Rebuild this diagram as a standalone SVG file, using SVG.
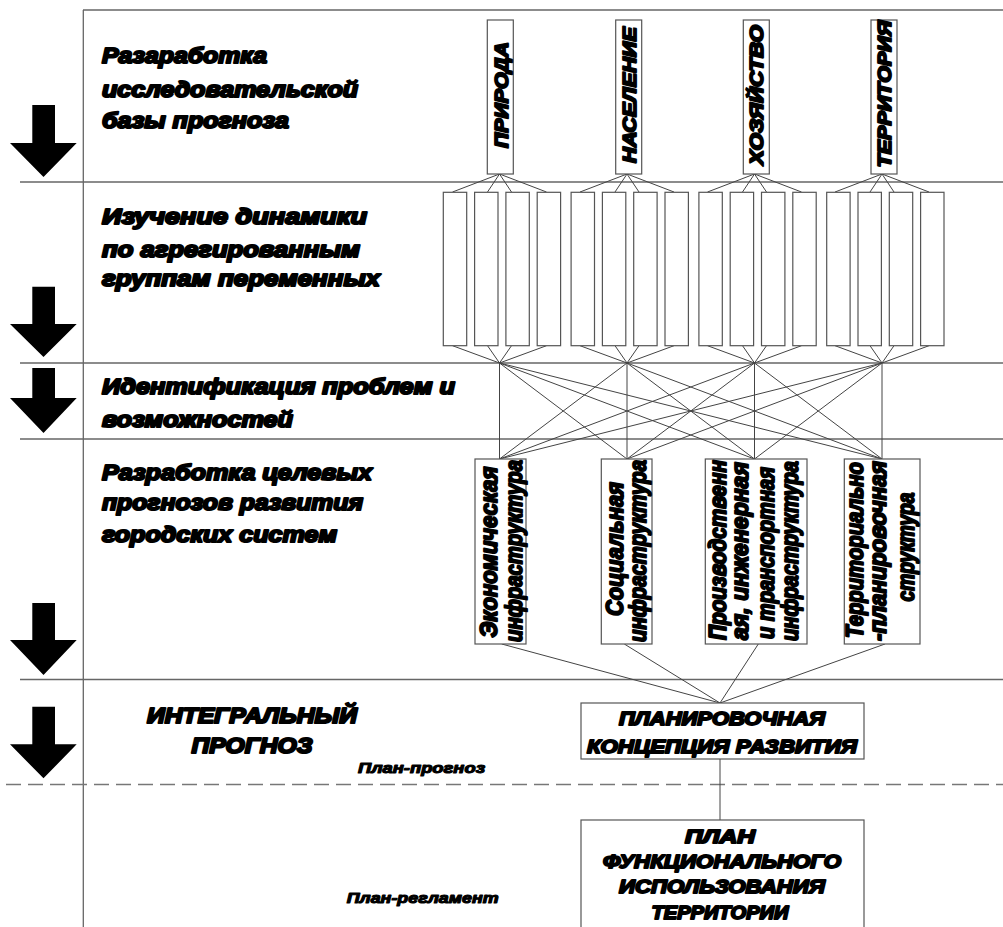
<svg xmlns="http://www.w3.org/2000/svg" width="1003" height="927" viewBox="0 0 1003 927">
<style>
.bg{fill:#fff}
.band{stroke:#666;stroke-width:1.3;fill:none}
.dash{stroke:#777;stroke-width:1.5;stroke-dasharray:15 7;fill:none}
.box{fill:#fff;stroke:#555;stroke-width:1.2}
.con{stroke:#444;stroke-width:1;fill:none}
.arrow{fill:#000}
.t{font-family:"Liberation Sans",Arial,sans-serif;font-weight:bold;font-style:italic;fill:#000;stroke:#000;stroke-linejoin:round}
.h{font-size:22px;stroke-width:2.1}
.r{font-size:23px;stroke-width:1.9}
.v{font-size:19px;stroke-width:1.9}
.m{font-size:19px;stroke-width:1.9}
.s{font-size:14px;stroke-width:1.1}
</style>
<defs>
<path id="arr" d="M32.3 0 H55 V38 H76.7 L43.5 72 L10 38 H32.3 Z"/>
</defs>
<rect class="bg" x="0" y="0" width="1003" height="927"/>

<g id="frame">
<line class="band" x1="83" y1="10" x2="1003" y2="10"/>
<line class="band" x1="83.3" y1="10" x2="83.3" y2="927"/>
<line class="band" x1="20" y1="182" x2="1003" y2="182"/>
<line class="band" x1="20" y1="363" x2="1003" y2="363"/>
<line class="band" x1="20" y1="439" x2="1003" y2="439"/>
<line class="band" x1="20" y1="679.5" x2="1003" y2="679.5"/>
<line class="dash" x1="6" y1="784.5" x2="1003" y2="784.5"/>
</g>

<g id="arrows">
<use href="#arr" class="arrow" transform="translate(0,105)"/>
<path class="arrow" d="M32.3 286.7 H55 V324 H76.7 L43.5 357 L10 324 H32.3 Z"/>
<path class="arrow" d="M32.3 368 H55 V398 H76.7 L43.5 433 L10 398 H32.3 Z"/>
<path class="arrow" d="M32.3 603 H55 V640 H76.7 L43.5 675 L10 640 H32.3 Z"/>
<path class="arrow" d="M32.3 706.7 H55 V744.3 H76.7 L43.5 778.3 L10 744.3 H32.3 Z"/>
</g>

<g id="stage-labels">
<text class="t h" x="102" y="63" textLength="165" lengthAdjust="spacingAndGlyphs">Разаработка</text>
<text class="t h" x="102" y="97" textLength="256" lengthAdjust="spacingAndGlyphs">исследовательской</text>
<text class="t h" x="102" y="128" textLength="187" lengthAdjust="spacingAndGlyphs">базы прогноза</text>
<text class="t h" x="102" y="224" textLength="265" lengthAdjust="spacingAndGlyphs">Изучение динамики</text>
<text class="t h" x="102" y="257" textLength="258" lengthAdjust="spacingAndGlyphs">по агрегированным</text>
<text class="t h" x="102" y="286" textLength="278" lengthAdjust="spacingAndGlyphs">группам переменных</text>
<text class="t h" x="102" y="394" textLength="353" lengthAdjust="spacingAndGlyphs">Идентификация проблем и</text>
<text class="t h" x="102" y="427" textLength="191" lengthAdjust="spacingAndGlyphs">возможностей</text>
<text class="t h" x="102" y="480" textLength="270" lengthAdjust="spacingAndGlyphs">Разработка целевых</text>
<text class="t h" x="102" y="510" textLength="261" lengthAdjust="spacingAndGlyphs">прогнозов развития</text>
<text class="t h" x="102" y="542" textLength="235" lengthAdjust="spacingAndGlyphs">городских систем</text>
<text class="t h" x="252" y="723" text-anchor="middle" textLength="210" lengthAdjust="spacingAndGlyphs">ИНТЕГРАЛЬНЫЙ</text>
<text class="t h" x="252" y="753" text-anchor="middle" textLength="121" lengthAdjust="spacingAndGlyphs">ПРОГНОЗ</text>
<text class="t s" x="358" y="772.7" textLength="127" lengthAdjust="spacingAndGlyphs">План-прогноз</text>
<text class="t s" x="346.7" y="903.3" textLength="152" lengthAdjust="spacingAndGlyphs">План-регламент</text>
</g>

<g id="connectors">
<path class="con" d="M499.5 174 L452.5 192 M499.5 174 L487.5 192 M499.5 174 L511.5 192 M499.5 174 L546.5 192
M627 174 L580 192 M627 174 L615 192 M627 174 L639 192 M627 174 L674 192
M754.5 174 L707.5 192 M754.5 174 L742.5 192 M754.5 174 L766.5 192 M754.5 174 L801.5 192
M882 174 L835 192 M882 174 L870 192 M882 174 L894 192 M882 174 L929 192"/>
<path class="con" d="M452.5 345.7 L499.5 363 M487.5 345.7 L499.5 363 M511.5 345.7 L499.5 363 M546.5 345.7 L499.5 363
M580 345.7 L627 363 M615 345.7 L627 363 M639 345.7 L627 363 M674 345.7 L627 363
M707.5 345.7 L754.5 363 M742.5 345.7 L754.5 363 M766.5 345.7 L754.5 363 M801.5 345.7 L754.5 363
M835 345.7 L882 363 M870 345.7 L882 363 M894 345.7 L882 363 M929 345.7 L882 363"/>
<path class="con" d="M499.5 363 L499.5 459 M499.5 363 L627 459 M499.5 363 L754.5 459 M499.5 363 L882 459
M627 363 L499.5 459 M627 363 L627 459 M627 363 L754.5 459 M627 363 L882 459
M754.5 363 L499.5 459 M754.5 363 L627 459 M754.5 363 L754.5 459 M754.5 363 L882 459
M882 363 L499.5 459 M882 363 L627 459 M882 363 L754.5 459 M882 363 L882 459"/>
<path class="con" d="M501.7 644 L720 703 M624.3 644 L720 703 M758.3 644 L720 703 M885 644 L720 703"/>
<path class="con" d="M720 759 L720 820"/>
</g>

<g id="node-priroda">
<rect class="box" x="487.3" y="20" width="26" height="154"/>
<text class="t v" transform="translate(507.5,95) rotate(-90)" text-anchor="middle" textLength="106" lengthAdjust="spacingAndGlyphs">ПРИРОДА</text>
</g>
<g id="node-naselenie">
<rect class="box" x="615.7" y="20" width="26" height="154"/>
<text class="t v" transform="translate(635.5,95) rotate(-90)" text-anchor="middle" textLength="136" lengthAdjust="spacingAndGlyphs">НАСЕЛЕНИЕ</text>
</g>
<g id="node-hozyaystvo">
<rect class="box" x="743.3" y="20" width="26" height="154"/>
<text class="t v" transform="translate(763,95) rotate(-90)" text-anchor="middle" textLength="140" lengthAdjust="spacingAndGlyphs">ХОЗЯЙСТВО</text>
</g>
<g id="node-territoriya">
<rect class="box" x="871" y="20" width="26" height="154"/>
<text class="t v" transform="translate(891,94) rotate(-90)" text-anchor="middle" textLength="147" lengthAdjust="spacingAndGlyphs">ТЕРРИТОРИЯ</text>
</g>

<g id="node-variables">
<rect class="box" x="443.3" y="192.3" width="23.4" height="153.4"/>
<rect class="box" x="474.6" y="192.3" width="23.4" height="153.4"/>
<rect class="box" x="505.9" y="192.3" width="23.4" height="153.4"/>
<rect class="box" x="537.2" y="192.3" width="23.4" height="153.4"/>
<rect class="box" x="571.1" y="192.3" width="23.4" height="153.4"/>
<rect class="box" x="602.4" y="192.3" width="23.4" height="153.4"/>
<rect class="box" x="633.7" y="192.3" width="23.4" height="153.4"/>
<rect class="box" x="665.0" y="192.3" width="23.4" height="153.4"/>
<rect class="box" x="698.9" y="192.3" width="23.4" height="153.4"/>
<rect class="box" x="730.2" y="192.3" width="23.4" height="153.4"/>
<rect class="box" x="761.5" y="192.3" width="23.4" height="153.4"/>
<rect class="box" x="792.8" y="192.3" width="23.4" height="153.4"/>
<rect class="box" x="826.7" y="192.3" width="23.4" height="153.4"/>
<rect class="box" x="858.0" y="192.3" width="23.4" height="153.4"/>
<rect class="box" x="889.3" y="192.3" width="23.4" height="153.4"/>
<rect class="box" x="920.6" y="192.3" width="23.4" height="153.4"/>
</g>

<g id="node-econ">
<rect class="box" x="475" y="459" width="51" height="185"/>
<text class="t r" transform="translate(497,552) rotate(-90)" text-anchor="middle" textLength="171" lengthAdjust="spacingAndGlyphs">Экономическая</text>
<text class="t r" transform="translate(521.5,551) rotate(-90)" text-anchor="middle" textLength="182" lengthAdjust="spacingAndGlyphs">инфраструктура</text>
</g>
<g id="node-social">
<rect class="box" x="601.3" y="459" width="50.7" height="185"/>
<text class="t r" transform="translate(623,549) rotate(-90)" text-anchor="middle" textLength="134" lengthAdjust="spacingAndGlyphs">Социальная</text>
<text class="t r" transform="translate(646,551) rotate(-90)" text-anchor="middle" textLength="182" lengthAdjust="spacingAndGlyphs">инфраструктура</text>
</g>
<g id="node-production">
<rect class="box" x="705.3" y="459" width="101.7" height="185"/>
<text class="t r" transform="translate(726,550) rotate(-90)" text-anchor="middle" textLength="180" lengthAdjust="spacingAndGlyphs">Производственн</text>
<text class="t r" transform="translate(748,551) rotate(-90)" text-anchor="middle" textLength="178" lengthAdjust="spacingAndGlyphs">ая, инженерная</text>
<text class="t r" transform="translate(774,553) rotate(-90)" text-anchor="middle" textLength="172" lengthAdjust="spacingAndGlyphs">и транспортная</text>
<text class="t r" transform="translate(797.5,551) rotate(-90)" text-anchor="middle" textLength="180" lengthAdjust="spacingAndGlyphs">инфраструктура</text>
</g>
<g id="node-territorial">
<rect class="box" x="844.3" y="459" width="75.7" height="185"/>
<text class="t r" transform="translate(862.5,550) rotate(-90)" text-anchor="middle" textLength="176" lengthAdjust="spacingAndGlyphs">Территориально</text>
<text class="t r" transform="translate(886,551) rotate(-90)" text-anchor="middle" textLength="180" lengthAdjust="spacingAndGlyphs">-планировочная</text>
<text class="t r" transform="translate(914,547) rotate(-90)" text-anchor="middle" textLength="109" lengthAdjust="spacingAndGlyphs">структура</text>
</g>

<g id="node-concept">
<rect class="box" x="581" y="703" width="283" height="56"/>
<text class="t m" x="722" y="725" text-anchor="middle" textLength="206" lengthAdjust="spacingAndGlyphs">ПЛАНИРОВОЧНАЯ</text>
<text class="t m" x="722" y="752.5" text-anchor="middle" textLength="270" lengthAdjust="spacingAndGlyphs">КОНЦЕПЦИЯ РАЗВИТИЯ</text>
</g>
<g id="node-functional">
<rect class="box" x="581" y="820" width="283" height="120"/>
<text class="t m" x="720" y="843" text-anchor="middle" textLength="70" lengthAdjust="spacingAndGlyphs">ПЛАН</text>
<text class="t m" x="722" y="868" text-anchor="middle" textLength="238" lengthAdjust="spacingAndGlyphs">ФУНКЦИОНАЛЬНОГО</text>
<text class="t m" x="722" y="893" text-anchor="middle" textLength="206" lengthAdjust="spacingAndGlyphs">ИСПОЛЬЗОВАНИЯ</text>
<text class="t m" x="720" y="919" text-anchor="middle" textLength="137" lengthAdjust="spacingAndGlyphs">ТЕРРИТОРИИ</text>
</g>
</svg>
